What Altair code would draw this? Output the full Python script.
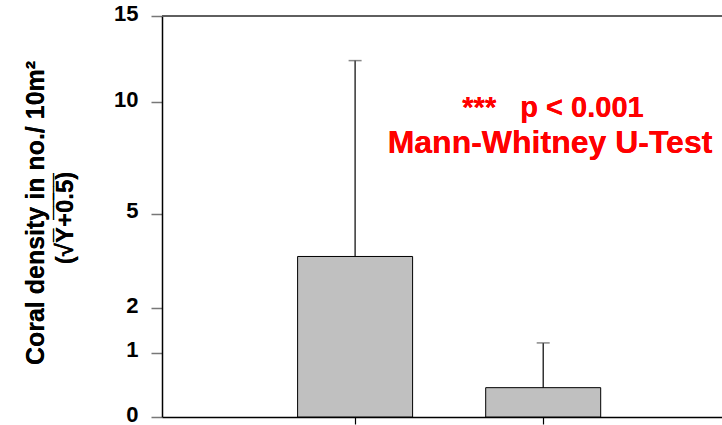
import math
import altair as alt
import pandas as pd

# Two groups, mean coral density (no. / 10 m^2) and mean + error
groups = [1, 2]
density_mean = [3.5, 0.39]
density_upper = [12.3, 1.2]

# Tick positions on the original (untransformed) density scale
tick_values = [0, 1, 2, 5, 10, 15]


def sqrt_t(v):
    return math.sqrt(v + 0.5)


df = pd.DataFrame({"group": groups, "mean": density_mean, "upper": density_upper})

FONT = "Liberation Sans"
W, H = 560, 401

base = alt.Chart(df).transform_calculate(
    mean_t="sqrt(datum.mean + 0.5)",
    upper_t="sqrt(datum.upper + 0.5)",
)

x_enc = alt.X(
    "group:Q",
    scale=alt.Scale(domain=[0, 2.924], nice=False, zero=False),
    axis=alt.Axis(
        values=groups, labels=False, tickSize=7, tickColor="black", tickWidth=1.2,
        domainColor="black", domainWidth=1.5, grid=False, title=None,
    ),
)
y_scale = alt.Scale(domain=[sqrt_t(0), sqrt_t(15)], nice=False, zero=False)
y_axis = alt.Axis(
    values=[sqrt_t(v) for v in tick_values],
    labelExpr="format(round(datum.value * datum.value - 0.5), 'd')",
    labelFont=FONT, labelFontSize=22, labelFontWeight="bold", labelColor="black",
    labelPadding=13, labelOffset=-3, tickSize=11, tickColor="#777777", tickWidth=1.5,
    domainColor="black", domainWidth=1.5, grid=False, title=None,
)

bars = base.mark_bar(size=115, color="#c0c0c0", stroke="black", strokeWidth=1).encode(
    x=x_enc,
    y=alt.Y("mean_t:Q", scale=y_scale, axis=y_axis),
    y2=alt.datum(sqrt_t(0)),
)

err = base.mark_rule(color="black", strokeWidth=1.2).encode(
    x="group:Q", y="mean_t:Q", y2="upper_t:Q"
)

caps = base.mark_tick(orient="horizontal", size=13, thickness=1.5, color="#555555").encode(
    x="group:Q", y="upper_t:Q"
)

top_line = alt.Chart(df).mark_rule(color="#555555", strokeWidth=1.5).encode(
    x=alt.value(0), x2=alt.value(W), y=alt.value(0)
)

red = dict(font=FONT, fontWeight="bold", color="#ff0000", align="center", baseline="alphabetic")
note1 = alt.Chart(df).mark_text(
    text="***\u00a0\u00a0\u00a0p < 0.001", fontSize=29, **red
).encode(x=alt.value(391), y=alt.value(101))
note2 = alt.Chart(df).mark_text(text="Mann-Whitney U-Test", fontSize=32, **red).encode(
    x=alt.value(388), y=alt.value(137)
)

ttl = dict(font=FONT, fontWeight="bold", color="black", align="center", baseline="middle", angle=270)
title1 = alt.Chart(df).mark_text(text="Coral density in no./ 10m\u00b2", fontSize=25, **ttl).encode(
    x=alt.value(-126), y=alt.value(197)
)
title2 = alt.Chart(df).mark_text(
    text="(\u221aY\u0305+\u03050\u0305.\u03055\u0305)", fontSize=24, **ttl
).encode(x=alt.value(-96), y=alt.value(202))

chart = (
    alt.layer(bars, err, caps, top_line, note1, note2, title1, title2)
    .properties(
        width=W, height=H,
        autosize=alt.AutoSizeParams(type="none"),
        padding={"left": 162, "top": 16, "right": 0, "bottom": 8},
        background="white",
    )
    .configure_view(stroke=None)
)

chart.save("out.html", embed_options={"renderer": "svg", "actions": False})
